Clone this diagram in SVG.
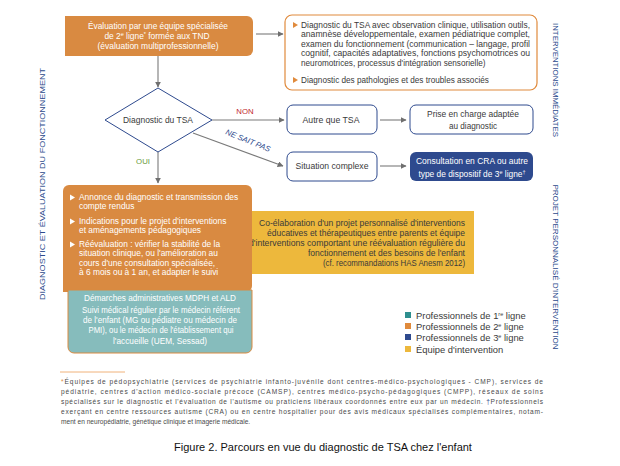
<svg xmlns="http://www.w3.org/2000/svg" width="620" height="466" viewBox="0 0 620 466">
<defs>
<marker id="ah" viewBox="0 0 10 10" refX="9" refY="5" markerWidth="6" markerHeight="6" orient="auto" markerUnits="userSpaceOnUse">
<path d="M0,0 L10,5 L0,10 z" fill="#6f6f6f"/>
</marker>
<style>
text{font-family:"Liberation Sans",Arial,sans-serif;}
.t{font-size:8.2px;fill:#3a3a3a;}
.w{font-size:8.4px;fill:#ffffff;}
.c{text-anchor:middle;}
.e{text-anchor:end;}
.side{font-size:8px;fill:#2b4a8c;}
.conn{stroke:#7a7a7a;stroke-width:1.1;fill:none;marker-end:url(#ah);}
.orange{fill:#d98a41;}
.ob{fill:#fff;stroke:#e08a3c;stroke-width:1.2;}
.bb{fill:#fff;stroke:#2e4a8e;stroke-width:1;}
.foot{font-size:6.6px;fill:#4a4a4a;}
.sup{font-size:5.5px;}
.leg{font-size:9.4px;fill:#3a3a3a;}
</style>
</defs>
<rect width="620" height="466" fill="#ffffff"/>

<!-- side labels -->
<text class="side c" transform="translate(45,184) rotate(-90)" textLength="232" lengthAdjust="spacingAndGlyphs">DIAGNOSTIC ET ÉVALUATION DU FONCTIONNEMENT</text>
<text class="side c" transform="translate(553,80) rotate(90)" textLength="114" lengthAdjust="spacingAndGlyphs">INTERVENTIONS IMMÉDIATES</text>
<text class="side c" transform="translate(553,267) rotate(90)" textLength="165" lengthAdjust="spacingAndGlyphs">PROJET PERSONNALISÉ D'INTERVENTION</text>

<g id="connectors">
<line class="conn" x1="256" y1="34" x2="283" y2="34"/>
<line class="conn" x1="158" y1="56" x2="158" y2="87"/>
<line class="conn" x1="212" y1="120" x2="284" y2="120"/>
<line class="conn" x1="193" y1="133" x2="283" y2="166"/>
<line class="conn" x1="158" y1="152" x2="158" y2="183"/>
<line class="conn" x1="380" y1="120" x2="406" y2="120"/>
<line class="conn" x1="380" y1="166" x2="406" y2="166"/>
<text x="245" y="114" font-size="7.8" fill="#c0262d" class="c">NON</text>
<text x="247" y="143" font-size="7.8" fill="#2e4a8e" class="c" font-style="italic" transform="rotate(22 247 143)">NE SAIT PAS</text>
<text x="143" y="164" font-size="7.8" fill="#6a9a3a" class="c">OUI</text>
</g>

<g id="eval">
<path class="orange" d="M65,16 H247 a6,6 0 0 1 6,6 V50 a6,6 0 0 1 -6,6 H65 z"/>
<text class="w c" x="158" y="29" textLength="140" lengthAdjust="spacingAndGlyphs">Évaluation par une équipe spécialisée</text>
<text class="w c" x="157" y="38.5">de 2<tspan class="sup" dy="-2.8">e</tspan><tspan dy="2.8"> ligne</tspan><tspan class="sup" dy="-2.8">*</tspan><tspan dy="2.8"> formée aux TND</tspan></text>
<text class="w c" x="158" y="48.5" textLength="121" lengthAdjust="spacingAndGlyphs">(évaluation multiprofessionnelle)</text>
</g>

<g id="diag-details">
<rect class="ob" x="285" y="15" width="252" height="75" rx="7"/>
<path d="M293,22 l5,3 l-5,3 z" fill="#e08a3c"/>
<text class="t" x="301" y="27.5" textLength="229" lengthAdjust="spacingAndGlyphs">Diagnostic du TSA avec observation clinique, utilisation outils,</text>
<text class="t" x="301" y="37" textLength="229" lengthAdjust="spacingAndGlyphs">anamnèse développementale, examen pédiatrique complet,</text>
<text class="t" x="301" y="46.5" textLength="229" lengthAdjust="spacingAndGlyphs">examen du fonctionnement (communication – langage, profil</text>
<text class="t" x="301" y="56" textLength="229" lengthAdjust="spacingAndGlyphs">cognitif, capacités adaptatives, fonctions psychomotrices ou</text>
<text class="t" x="301" y="65.5">neuromotrices, processus d'intégration sensorielle)</text>
<path d="M293,77 l5,3 l-5,3 z" fill="#e08a3c"/>
<text class="t" x="301" y="83">Diagnostic des pathologies et des troubles associés</text>
</g>

<g id="diamond">
<path d="M158,88 L212,120 L158,152 L105,120 z" fill="#fff" stroke="#2e4a8e" stroke-width="1"/>
<text class="t c" x="158" y="123" textLength="70" lengthAdjust="spacingAndGlyphs">Diagnostic du TSA</text>
</g>

<g id="autre">
<rect class="bb" x="287" y="105" width="90" height="29" rx="6"/>
<text class="t c" x="331" y="123" textLength="57" lengthAdjust="spacingAndGlyphs">Autre que TSA</text>
</g>

<g id="prise">
<rect class="bb" x="410" y="105" width="123" height="29" rx="6"/>
<text class="t c" x="473" y="116.5" textLength="92" lengthAdjust="spacingAndGlyphs">Prise en charge adaptée</text>
<text class="t c" x="473" y="128.5">au diagnostic</text>
</g>

<g id="situation">
<rect class="bb" x="287" y="152" width="90" height="29" rx="6"/>
<text class="t c" x="332" y="169" textLength="73" lengthAdjust="spacingAndGlyphs">Situation complexe</text>
</g>

<g id="consultation">
<rect x="410" y="152" width="123" height="29" rx="6" fill="#2e4a8e"/>
<text class="w c" x="472" y="164" textLength="112" lengthAdjust="spacingAndGlyphs">Consultation en CRA ou autre</text>
<text class="w c" x="472" y="176.5">type de dispositif de 3<tspan class="sup" dy="-2.8">e</tspan><tspan dy="2.8"> ligne</tspan><tspan class="sup" dy="-2.8">†</tspan></text>
</g>

<g id="projet">
<rect x="246" y="211" width="228" height="63" fill="#edb83c"/>
<text class="t e" x="465" y="225.5" textLength="206" lengthAdjust="spacingAndGlyphs">Co-élaboration d'un projet personnalisé d'interventions</text>
<text class="t e" x="465" y="235.5" textLength="198" lengthAdjust="spacingAndGlyphs">éducatives et thérapeutiques entre parents et équipe</text>
<text class="t e" x="465" y="245.5" textLength="216" lengthAdjust="spacingAndGlyphs">d'interventions comportant une réévaluation régulière du</text>
<text class="t e" x="465" y="255.5" textLength="157" lengthAdjust="spacingAndGlyphs">fonctionnement et des besoins de l'enfant</text>
<text class="t e" x="465" y="265.5" textLength="142" lengthAdjust="spacingAndGlyphs">(cf. recommandations HAS Anesm 2012)</text>
</g>

<g id="annonce">
<path class="orange" d="M63,191 a6,6 0 0 1 6,-6 H246 a6,6 0 0 1 6,6 V286 a6,6 0 0 1 -6,6 H63 z"/>
<path d="M70,194.5 l5,3 l-5,3 z" fill="#fff"/>
<text class="w" x="79" y="199.5">Annonce du diagnostic et transmission des</text>
<text class="w" x="79" y="209">compte rendus</text>
<path d="M70,218.5 l5,3 l-5,3 z" fill="#fff"/>
<text class="w" x="79" y="223.5">Indications pour le projet d'interventions</text>
<text class="w" x="79" y="233">et aménagements pédagogiques</text>
<path d="M70,241.5 l5,3 l-5,3 z" fill="#fff"/>
<text class="w" x="79" y="246.5">Réévaluation : vérifier la stabilité de la</text>
<text class="w" x="79" y="256">situation clinique, ou l'amélioration au</text>
<text class="w" x="79" y="265.5">cours d'une consultation spécialisée,</text>
<text class="w" x="79" y="275">à 6 mois ou à 1 an, et adapter le suivi</text>
</g>

<g id="suivi">
<path d="M68,290 H252 V347 a6,6 0 0 1 -6,6 H74 a6,6 0 0 1 -6,-6 z" fill="#86bcbc" stroke="#d98a41" stroke-width="1"/>
<text class="w c" x="160" y="300.5" textLength="152" lengthAdjust="spacingAndGlyphs">Démarches administratives MDPH et ALD</text>
<text class="w c" x="161" y="313" textLength="158" lengthAdjust="spacingAndGlyphs">Suivi médical régulier par le médecin référent</text>
<text class="w c" x="160" y="323" textLength="154" lengthAdjust="spacingAndGlyphs">de l'enfant (MG ou pédiatre ou médecin de</text>
<text class="w c" x="161" y="333" textLength="145" lengthAdjust="spacingAndGlyphs">PMI), ou le médecin de l'établissement qui</text>
<text class="w c" x="160" y="343.5" textLength="94" lengthAdjust="spacingAndGlyphs">l'accueille (UEM, Sessad)</text>
</g>

<g id="legend">
<rect x="405" y="312" width="6" height="6" fill="#2e8f8f"/>
<text class="leg" x="416" y="318.5">Professionnels de 1<tspan class="sup" dy="-3">re</tspan><tspan dy="3"> ligne</tspan></text>
<rect x="405" y="323" width="6" height="6" fill="#e08a3c"/>
<text class="leg" x="416" y="329.5">Professionnels de 2<tspan class="sup" dy="-3">e</tspan><tspan dy="3"> ligne</tspan></text>
<rect x="405" y="334" width="6" height="6" fill="#2e4a8e"/>
<text class="leg" x="416" y="340.5">Professionnels de 3<tspan class="sup" dy="-3">e</tspan><tspan dy="3"> ligne</tspan></text>
<rect x="405" y="346" width="6" height="6" fill="#edb83c"/>
<text class="leg" x="416" y="352.5">Équipe d'intervention</text>
</g>

<g id="footnote">
<line x1="60" y1="372" x2="125" y2="372" stroke="#f0b27a" stroke-width="1"/>
<text class="foot" x="61" y="384" textLength="482" lengthAdjust="spacing"><tspan fill="#e08a3c">*</tspan>Équipes de pédopsychiatrie (services de psychiatrie infanto-juvénile dont centres-médico-psychologiques - CMP), services de</text>
<text class="foot" x="61" y="394" textLength="482" lengthAdjust="spacing">pédiatrie, centres d'action médico-sociale précoce (CAMSP), centres médico-psycho-pédagogiques (CMPP), réseaux de soins</text>
<text class="foot" x="61" y="404" textLength="482" lengthAdjust="spacing">spécialisés sur le diagnostic et l'évaluation de l'autisme ou praticiens libéraux coordonnés entre eux par un médecin. <tspan fill="#2e4a8e">†</tspan>Professionnels</text>
<text class="foot" x="61" y="414" textLength="482" lengthAdjust="spacing">exerçant en centre ressources autisme (CRA) ou en centre hospitalier pour des avis médicaux spécialisés complémentaires, notam-</text>
<text class="foot" x="61" y="424">ment en neuropédiatrie, génétique clinique et imagerie médicale.</text>
</g>

<text x="323" y="451" font-size="11" fill="#111" class="c">Figure 2. Parcours en vue du diagnostic de TSA chez l'enfant</text>
</svg>
